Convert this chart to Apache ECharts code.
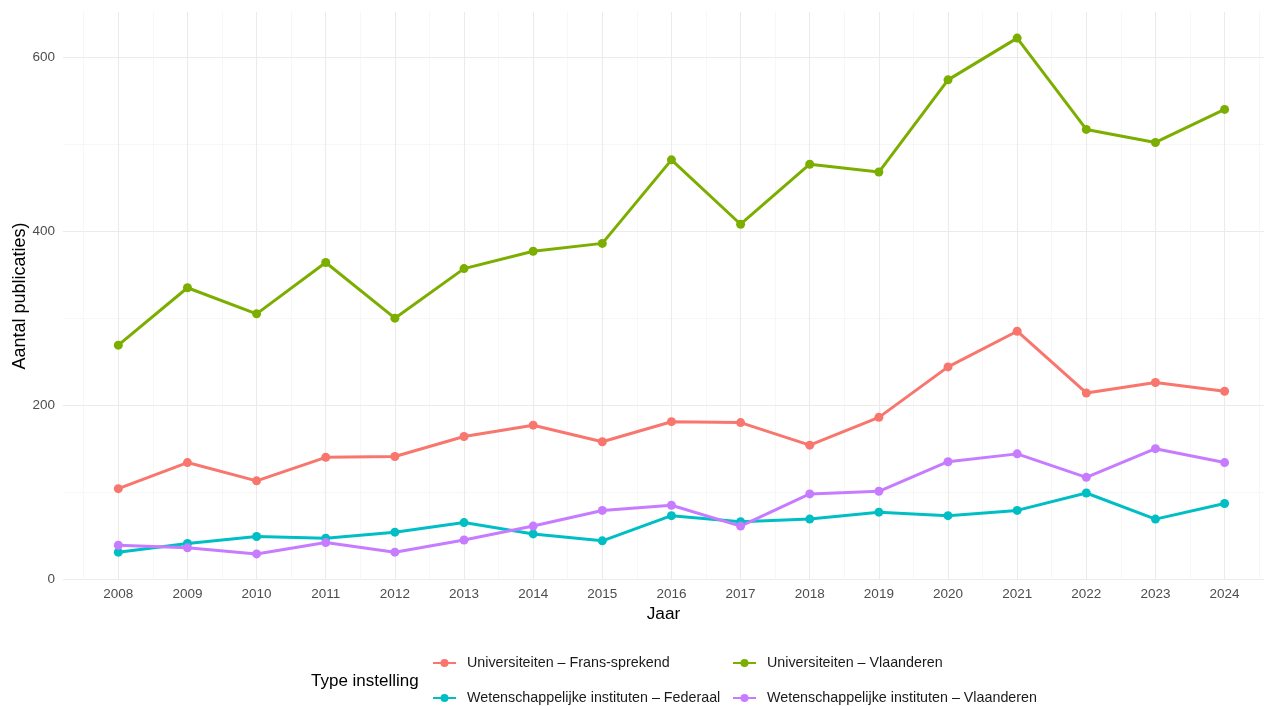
<!DOCTYPE html>
<html>
<head>
<meta charset="utf-8">
<script src="https://cdn.jsdelivr.net/npm/echarts@6/dist/echarts.min.js"></script>
<style>
html,body{margin:0;padding:0;background:#fff;}
#chart{width:1264px;height:706px;}
</style>
</head>
<body>
<div id="chart"></div>
<script>
const years = [2008,2009,2010,2011,2012,2013,2014,2015,2016,2017,2018,2019,2020,2021,2022,2023,2024];
const minorYears = [2007.5,2008.5,2009.5,2010.5,2011.5,2012.5,2013.5,2014.5,2015.5,2016.5,2017.5,2018.5,2019.5,2020.5,2021.5,2022.5,2023.5,2024.5];
const yTicks = [0,200,400,600];
const yMinorTicks = [100,300,500];

const seriesNames = [
  'Universiteiten – Frans-sprekend',
  'Universiteiten – Vlaanderen',
  'Wetenschappelijke instituten – Federaal',
  'Wetenschappelijke instituten – Vlaanderen'
];
const univFrans = [104,134,113,140,141,164,177,158,181,180,154,186,244,285,214,226,216];
const univVlaanderen = [269,335,305,364,300,357,377,386,482,408,477,468,574,622,517,502,540];
const wiFederaal = [31,41,49,47,54,65,52,44,73,66,69,77,73,79,99,69,87];
const wiVlaanderen = [39,36,29,42,31,45,61,79,85,61,98,101,135,144,117,150,134];
const seriesValues = [univFrans, univVlaanderen, wiFederaal, wiVlaanderen];
const colors = ['#F8766D','#7CAE00','#00BFC4','#C77CFF'];

const chart = echarts.init(document.getElementById('chart'), null, {renderer:'canvas'});

const FONT = 'Liberation Sans, Arial, sans-serif';
const gridLine = {show:true, lineStyle:{color:'#EBEBEB', width:1.1}};
const gridMinor = {show:true, lineStyle:{color:'#F2F2F2', width:0.6}};

const legendPos = [[432,656],[732,656],[432,691],[732,691]];

const option = {
  backgroundColor:'#ffffff',
  animation:false,
  color: colors,
  grid:{left:63, top:12, right:0, height:568, containLabel:false, outerBoundsMode:'none'},
  xAxis:[
    {type:'value', min:2007.2, max:2024.57, gridIndex:0,
     axisLine:{show:false}, axisTick:{show:false, customValues:years},
     axisLabel:{customValues:years, color:'#4D4D4D', fontSize:13.5, fontFamily:FONT, margin:7, formatter:v=>String(v)},
     splitLine:gridLine,
     name:'Jaar', nameLocation:'middle', nameGap:26, nameMoveOverlap:false,
     nameTextStyle:{color:'#000', fontSize:17.3, fontFamily:FONT}},
    {type:'value', min:2007.2, max:2024.57, gridIndex:0,
     axisLine:{show:false}, axisTick:{show:false, customValues:minorYears},
     axisLabel:{show:false, customValues:minorYears},
     splitLine:gridMinor}
  ],
  yAxis:[
    {type:'value', min:-1, max:652, gridIndex:0,
     axisLine:{show:false}, axisTick:{show:false, customValues:yTicks},
     axisLabel:{customValues:yTicks, color:'#4D4D4D', fontSize:13.5, fontFamily:FONT, margin:8},
     splitLine:gridLine,
     name:'Aantal publicaties)', nameLocation:'middle', nameGap:34, nameMoveOverlap:false,
     nameTextStyle:{color:'#000', fontSize:18, fontFamily:FONT}},
    {type:'value', min:-1, max:652, gridIndex:0,
     axisLine:{show:false}, axisTick:{show:false, customValues:yMinorTicks},
     axisLabel:{show:false, customValues:yMinorTicks},
     splitLine:gridMinor}
  ],
  legend: seriesNames.map((n,i)=>({
    data:[n], left:legendPos[i][0], top:legendPos[i][1],
    itemWidth:23, itemHeight:10, padding:0,
    textStyle:{color:'#1a1a1a', fontSize:14.3, fontFamily:FONT, padding:[0,0,0,6]}
  })),
  graphic:[{
    type:'text', left:311, top:673,
    style:{text:'Type instelling', fill:'#000', font:'17px '+FONT}
  }],
  series: seriesNames.map((n,i)=>({
    name:n, type:'line', xAxisIndex:0, yAxisIndex:0,
    data: years.map((y,j)=>[y, seriesValues[i][j]]),
    symbol:'circle', symbolSize:9,
    lineStyle:{width:3, color:colors[i]},
    itemStyle:{color:colors[i]},
    emphasis:{disabled:true}
  }))
};
chart.setOption(option);
</script>
</body>
</html>
